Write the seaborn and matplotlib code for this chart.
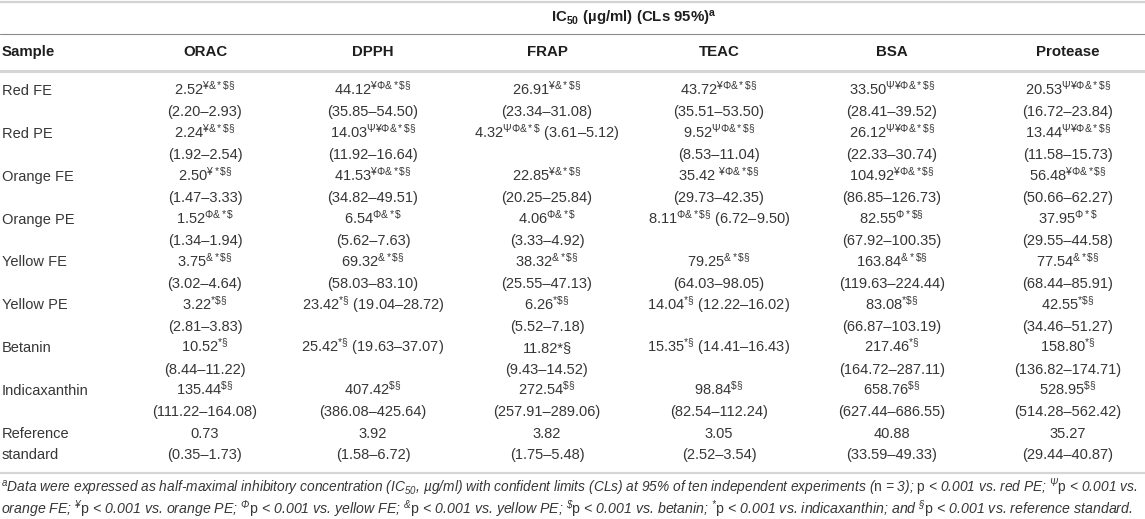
import numpy as np
import pandas as pd
import matplotlib
matplotlib.use('Agg')
import matplotlib.pyplot as plt
import seaborn as sns

# 표 데이터 (IC50, 95% 신뢰구간, 유의성 기호)
samples = ["Red FE", "Red PE", "Orange FE", "Orange PE", "Yellow FE",
           "Yellow PE", "Betanin", "Indicaxanthin", "Reference standard"]
assays = ["ORAC", "DPPH", "FRAP", "TEAC", "BSA", "Protease"]

orac_ic50 = [2.52, 2.24, 2.50, 1.52, 3.75, 3.22, 10.52, 135.44, 0.73]
orac_lo = [2.20, 1.92, 1.47, 1.34, 3.02, 2.81, 8.44, 111.22, 0.35]
orac_hi = [2.93, 2.54, 3.33, 1.94, 4.64, 3.83, 11.22, 164.08, 1.73]
orac_sig = ["¥&*$§", "¥&*$§", "¥*$§", "Φ&*$", "&*$§", "*$§", "*§", "$§", ""]

dpph_ic50 = [44.12, 14.03, 41.53, 6.54, 69.32, 23.42, 25.42, 407.42, 3.92]
dpph_lo = [35.85, 11.92, 34.82, 5.62, 58.03, 19.04, 19.63, 386.08, 1.58]
dpph_hi = [54.50, 16.64, 49.51, 7.63, 83.10, 28.72, 37.07, 425.64, 6.72]
dpph_sig = ["¥Φ&*$§", "Ψ¥Φ&*$§", "¥Φ&*$§", "Φ&*$", "&*$§", "*§", "*§", "$§", ""]

frap_ic50 = [26.91, 4.32, 22.85, 4.06, 38.32, 6.26, 11.82, 272.54, 3.82]
frap_lo = [23.34, 3.61, 20.25, 3.33, 25.55, 5.52, 9.43, 257.91, 1.75]
frap_hi = [31.08, 5.12, 25.84, 4.92, 47.13, 7.18, 14.52, 289.06, 5.48]
frap_sig = ["¥&*$§", "ΨΦ&*$", "¥&*$§", "Φ&*$", "&*$§", "*$§", "*§", "$§", ""]

teac_ic50 = [43.72, 9.52, 35.42, 8.11, 79.25, 14.04, 15.35, 98.84, 3.05]
teac_lo = [35.51, 8.53, 29.73, 6.72, 64.03, 12.22, 14.41, 82.54, 2.52]
teac_hi = [53.50, 11.04, 42.35, 9.50, 98.05, 16.02, 16.43, 112.24, 3.54]
teac_sig = ["¥Φ&*$§", "ΨΦ&*$§", "¥Φ&*$§", "Φ&*$§", "&*$§", "*§", "*§", "$§", ""]

bsa_ic50 = [33.50, 26.12, 104.92, 82.55, 163.84, 83.08, 217.46, 658.76, 40.88]
bsa_lo = [28.41, 22.33, 86.85, 67.92, 119.63, 66.87, 164.72, 627.44, 33.59]
bsa_hi = [39.52, 30.74, 126.73, 100.35, 224.44, 103.19, 287.11, 686.55, 49.33]
bsa_sig = ["Ψ¥Φ&*$§", "Ψ¥Φ&*$§", "¥Φ&*$§", "Φ*$§", "&*$§", "*$§", "*§", "$§", ""]

protease_ic50 = [20.53, 13.44, 56.48, 37.95, 77.54, 42.55, 158.80, 528.95, 35.27]
protease_lo = [16.72, 11.58, 50.66, 29.55, 68.44, 34.46, 136.82, 514.28, 29.44]
protease_hi = [23.84, 15.73, 62.27, 44.58, 85.91, 51.27, 174.71, 562.42, 40.87]
protease_sig = ["Ψ¥Φ&*$§", "Ψ¥Φ&*$§", "¥Φ&*$§", "Φ*$", "&*$§", "*$§", "*§", "$§", ""]

# 원본 표에서 신뢰구간이 같은 줄에 붙어 있는 칸
inline_cells = [("Red PE", "FRAP"), ("Orange PE", "TEAC"), ("Yellow PE", "DPPH"),
                ("Yellow PE", "TEAC"), ("Betanin", "DPPH"), ("Betanin", "TEAC")]
plain_sig_cells = [("Betanin", "FRAP")]   # 기호가 위첨자가 아님
spaced_sig_cells = [("Orange FE", "TEAC")]

P = r"$\mathrm{p}$"
footnote_1 = (r"$^{a}$Data were expressed as half-maximal inhibitory concentration "
              r"(IC$_{50}$, µg/ml) with confident limits (CLs) at 95% of ten independent "
              r"experiments ($\mathrm{n}$ = 3); " + P + r" < 0.001 vs. red PE; $^{Ψ}\mathrm{p}$ < 0.001 vs.")
footnote_2 = (r"orange FE; $^{¥}\mathrm{p}$ < 0.001 vs. orange PE; $^{Φ}\mathrm{p}$ < 0.001 vs. yellow FE; "
              r"$^{&}\mathrm{p}$ < 0.001 vs. yellow PE; $^{\$}\mathrm{p}$ < 0.001 vs. betanin; "
              r"$^{*}\mathrm{p}$ < 0.001 vs. indicaxanthin; and $^{§}\mathrm{p}$ < 0.001 vs. reference standard.")

cols = {
    "ORAC": (orac_ic50, orac_lo, orac_hi, orac_sig),
    "DPPH": (dpph_ic50, dpph_lo, dpph_hi, dpph_sig),
    "FRAP": (frap_ic50, frap_lo, frap_hi, frap_sig),
    "TEAC": (teac_ic50, teac_lo, teac_hi, teac_sig),
    "BSA": (bsa_ic50, bsa_lo, bsa_hi, bsa_sig),
    "Protease": (protease_ic50, protease_lo, protease_hi, protease_sig),
}
rows = []
for a in assays:
    v, lo, hi, sg = cols[a]
    for i, s in enumerate(samples):
        rows.append({"sample": s, "assay": a, "ic50": v[i], "lo": lo[i], "hi": hi[i], "sig": sg[i]})
df = pd.DataFrame(rows)

# 스타일
sns.set_theme(style='white')
plt.rcParams['font.family'] = ['Liberation Sans', 'DejaVu Sans']
plt.rcParams['mathtext.fontset'] = 'custom'
plt.rcParams['mathtext.rm'] = 'Liberation Sans'
plt.rcParams['mathtext.it'] = 'Liberation Sans:italic'
plt.rcParams['mathtext.bf'] = 'Liberation Sans:bold'
plt.rcParams['mathtext.default'] = 'regular'

W, H = 1145, 519
col_x = [205, 373, 547, 719, 892, 1068]   # 열 중심 (px)
row0, pitch = 95, 21.43                     # 첫 줄 baseline, 줄 간격
fs = 10.5
fs_head = 10.8
txt_c = '#363636'
head_c = '#1e1e1e'


def sup(s):
    if not s:
        return ''
    return '$^{' + s.replace('$', r'\$') + '}$'


fig = plt.figure(figsize=(W / 100, H / 100), dpi=100)
ax = fig.add_axes([0, 0, 1, 1])
ax.set_xlim(0, W)
ax.set_ylim(H, 0)
ax.axis('off')

# 가로선
ax.axhline(1.5, color='#d2d2d2', lw=1.6)
ax.axhline(34, color='#8c8c8c', lw=0.8)
ax.axhline(71, color='#d6d6d6', lw=2.2)
ax.axhline(473, color='#d6d6d6', lw=1.6)

# 제목, 헤더
ax.text(np.mean(col_x), 23, r"IC$_{50}$ (µg/ml) (CLs 95%)$^{a}$", ha='center', va='baseline',
        fontsize=fs_head, fontweight='bold', color=head_c)
ax.text(2, 56, "Sample", ha='left', va='baseline', fontsize=fs_head, fontweight='bold', color=head_c)
for a, x in zip(assays, col_x):
    ax.text(x, 56, a, ha='center', va='baseline', fontsize=fs_head, fontweight='bold', color=head_c)

# 시료 이름
for i, s in enumerate(samples):
    y = row0 + 2 * i * pitch
    if s == "Reference standard":
        ax.text(2, y, "Reference", ha='left', va='baseline', fontsize=fs, color=txt_c)
        ax.text(2, y + pitch, "standard", ha='left', va='baseline', fontsize=fs, color=txt_c)
    else:
        ax.text(2, y, s, ha='left', va='baseline', fontsize=fs, color=txt_c)

# 값
for _, r in df.iterrows():
    i = samples.index(r['sample'])
    x = col_x[assays.index(r['assay'])]
    y = row0 + 2 * i * pitch
    key = (r['sample'], r['assay'])
    if key in plain_sig_cells:
        val = f"{r['ic50']:.2f}" + r['sig'].replace('$', r'\$')
    elif key in spaced_sig_cells:
        val = f"{r['ic50']:.2f} " + sup(r['sig'])
    else:
        val = f"{r['ic50']:.2f}" + sup(r['sig'])
    ci = f"({r['lo']:.2f}–{r['hi']:.2f})"
    if key in inline_cells:
        ax.text(x, y, val + " " + ci, ha='center', va='baseline', fontsize=fs, color=txt_c)
    else:
        ax.text(x, y, val, ha='center', va='baseline', fontsize=fs, color=txt_c)
        ax.text(x, y + pitch, ci, ha='center', va='baseline', fontsize=fs, color=txt_c)

# 각주
ax.text(1, 492, footnote_1, ha='left', va='baseline', fontsize=9.9, fontstyle='italic', color=txt_c)
ax.text(1, 514, footnote_2, ha='left', va='baseline', fontsize=10.2, fontstyle='italic', color=txt_c)

fig.savefig('out.png', dpi=100)
